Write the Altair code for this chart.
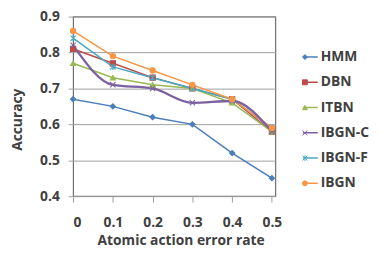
import altair as alt
import pandas as pd

rates = [0, 0.1, 0.2, 0.3, 0.4, 0.5]
series = ["HMM", "DBN", "ITBN", "IBGN-C", "IBGN-F", "IBGN"]
hmm = [0.67, 0.65, 0.62, 0.60, 0.52, 0.45]
dbn = [0.81, 0.77, 0.73, 0.70, 0.67, 0.58]
itbn = [0.77, 0.73, 0.71, 0.70, 0.66, 0.58]
ibgn_c = [0.82, 0.71, 0.70, 0.66, 0.665, 0.58]
ibgn_f = [0.84, 0.76, 0.73, 0.70, 0.67, 0.59]
ibgn = [0.86, 0.79, 0.75, 0.71, 0.67, 0.59]
colors = ["#4A7EBB", "#BE4B48", "#98B954", "#7D60A0", "#46AAC5", "#F79646"]
shapes = [
    "diamond",
    "square",
    "triangle-up",
    "M-1,-1L1,1M-1,1L1,-1",
    "M-1,-1L1,1M-1,1L1,-1M0,-1.2L0,1.2",
    "circle",
]

# marker keys differ from series names so the marker legend stays separate
markers = [s + " m" for s in series]

vals = [hmm, dbn, itbn, ibgn_c, ibgn_f, ibgn]
rows = []
for s, m, v in zip(series, markers, vals):
    for r, a in zip(rates, v):
        rows.append({"rate": r, "acc": a, "series": s, "marker": m})
df = pd.DataFrame(rows)

FONT = "Open Sans"
TXT = "#404040"

LX = 232
LY = 33
CH = 16
RP = 9.6

line_legend = alt.Legend(
    title=None,
    orient="none",
    legendX=LX,
    legendY=LY,
    symbolType="stroke",
    symbolSize=225,
    symbolStrokeWidth=1.5,
    labelFont=FONT,
    labelFontSize=14,
    labelFontWeight="bold",
    labelColor=TXT,
    labelOffset=2,
    clipHeight=CH,
    rowPadding=RP,
)
marker_legend = alt.Legend(
    title=None,
    orient="none",
    legendX=LX,
    legendY=LY,
    symbolSize=25,
    symbolStrokeWidth=1,
    labelExpr="''",
    labelFontSize=1,
    labelOffset=0,
    clipHeight=CH,
    rowPadding=RP,
)

x = alt.X(
    "rate:Q",
    scale=alt.Scale(domain=[0, 0.5087], nice=False, zero=False),
    axis=alt.Axis(
        values=rates,
        format=".1~f",
        title="Atomic action error rate",
        grid=False,
        domain=False,
        ticks=True,
        tickSize=6,
        tickColor="#A0A0A0",
        labelPadding=14,
        titleX=109,
        titleY=38,
    ),
)
y = alt.Y(
    "acc:Q",
    scale=alt.Scale(domain=[0.4, 0.9], nice=False, zero=False),
    axis=alt.Axis(
        values=[0.4, 0.5, 0.6, 0.7, 0.8, 0.9],
        format=".1f",
        title="Accuracy",
        grid=True,
        gridColor="#A0A0A0",
        domain=False,
        ticks=True,
        tickSize=5,
        tickColor="#A0A0A0",
        labelPadding=9,
        titleX=-49,
        titleY=104,
    ),
)

color = alt.Color("series:N", scale=alt.Scale(domain=series, range=colors),
                  sort=series, legend=line_legend)

base = alt.Chart(df)

lines_lin = base.transform_filter(alt.datum.series != "IBGN-C").mark_line(
    strokeWidth=1.5
).encode(x=x, y=y, color=color, detail="series:N")
line_c = base.transform_filter(alt.datum.series == "IBGN-C").mark_line(
    strokeWidth=2.3, interpolate="monotone"
).encode(x=x, y=y, color=color)
points = base.mark_point(size=28, strokeWidth=1.1, opacity=1, filled=False).encode(
    x=x, y=y,
    fill=alt.Fill("marker:N", scale=alt.Scale(domain=markers, range=colors),
                  sort=markers, legend=marker_legend),
    stroke=alt.Stroke("marker:N", scale=alt.Scale(domain=markers, range=colors),
                      sort=markers, legend=marker_legend),
    shape=alt.Shape("marker:N", scale=alt.Scale(domain=markers, range=shapes),
                    sort=markers, legend=marker_legend),
)

chart = (
    alt.layer(lines_lin, line_c, points)
    .properties(
        width=205,
        height=182,
        autosize=alt.AutoSizeParams(type="none"),
        padding={"left": 66, "top": 7, "right": 100, "bottom": 65},
    )
    .configure_view(stroke="#707070", strokeWidth=1.2)
    .configure_axis(
        labelFont=FONT,
        labelFontSize=14,
        labelFontWeight="bold",
        labelColor=TXT,
        titleFont=FONT,
        titleFontSize=14,
        titleFontWeight="bold",
        titleColor=TXT,
    )
)

chart.save("out.html", embed_options={"renderer": "svg", "actions": False})
